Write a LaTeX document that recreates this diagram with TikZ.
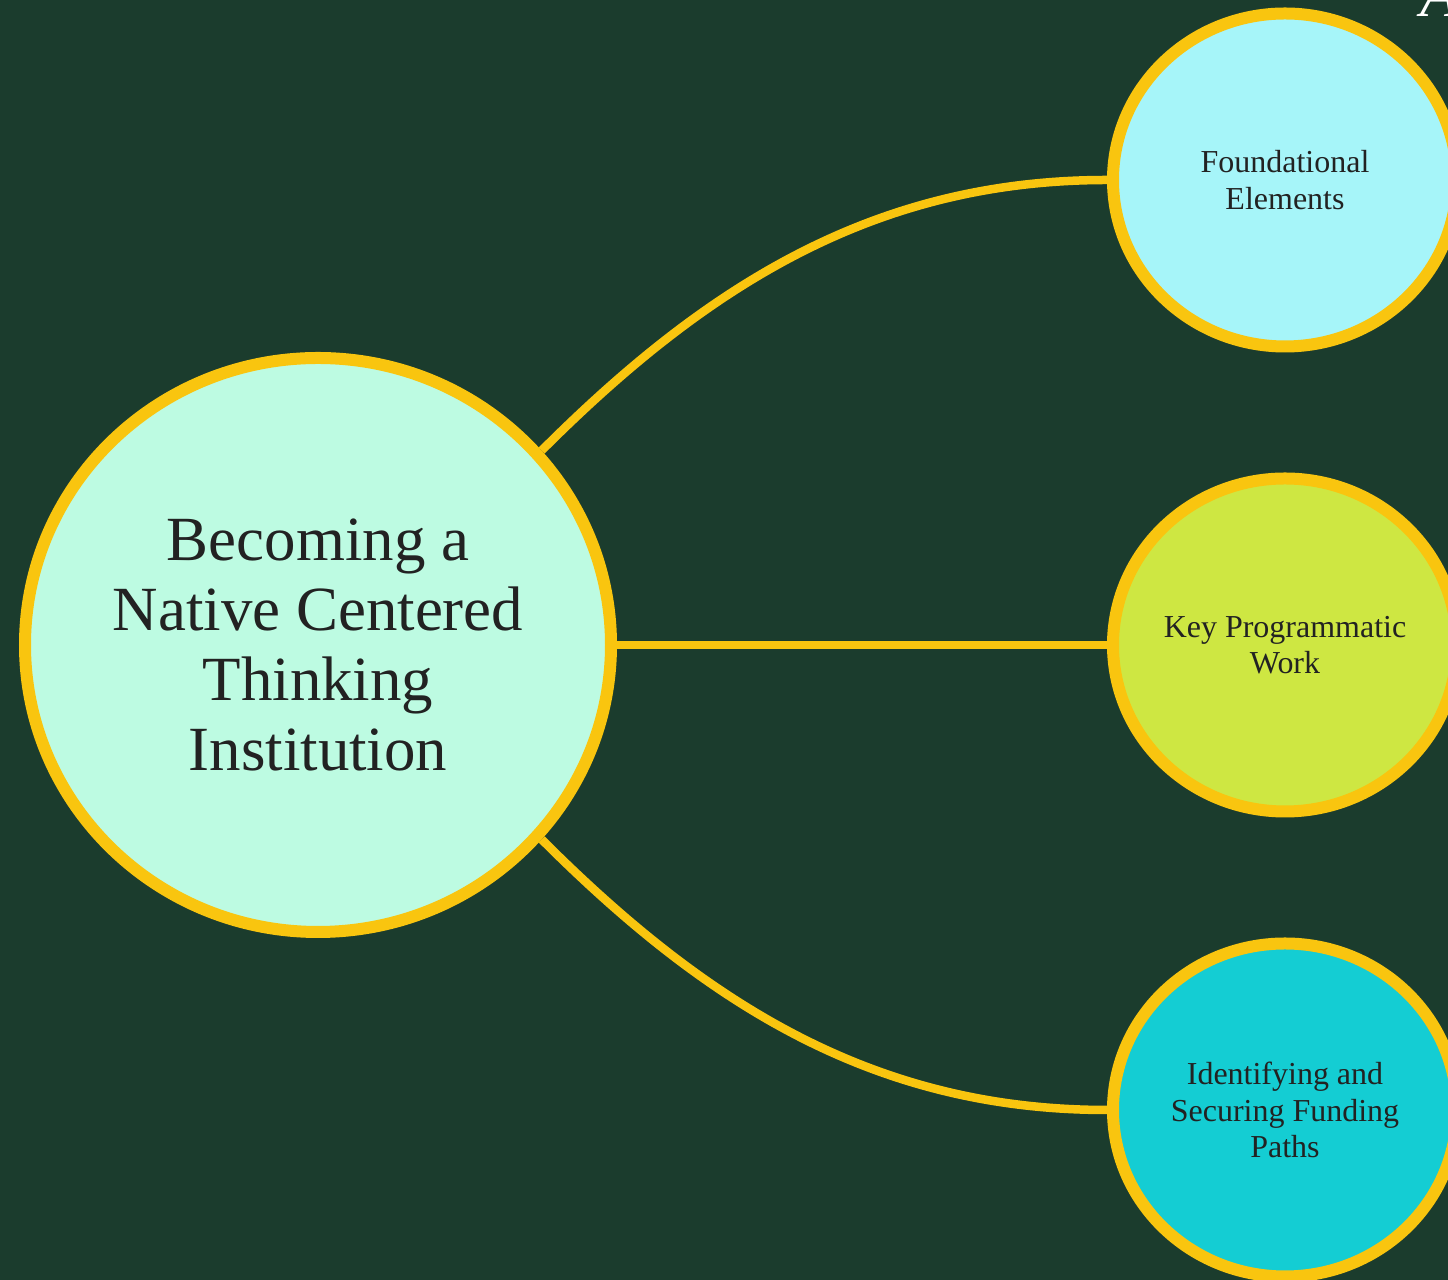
\documentclass[tikz,border=0pt]{standalone}
\usepackage{fontspec}
\setmainfont{Liberation Serif}
\usetikzlibrary{shapes.geometric}

\definecolor{bg}{HTML}{1B3C2D}
\definecolor{gold}{HTML}{F9C50F}
\definecolor{mint}{HTML}{BDFBE2}
\definecolor{sky}{HTML}{A6F5F9}
\definecolor{lime}{HTML}{CEE742}
\definecolor{aqua}{HTML}{14CDD3}
\definecolor{ink}{HTML}{222222}

\tikzset{
	bubble/.style={shape=ellipse,draw=gold,line width=1.2mm,inner sep=0pt,align=center,text=ink},
	small/.style={bubble,minimum width=3.44cm,minimum height=3.33cm,font=\fontsize{9.1}{10.3}\selectfont},
	link/.style={draw=gold,line width=0.85mm}
}

\begin{document}
\begin{tikzpicture}
	\useasboundingbox (0,0) rectangle (14.48,-12.8);
	\clip (0,0) rectangle (14.48,-12.8);
	\fill[bg] (0,0) rectangle (14.48,-12.8);
	\node[bubble,fill=mint,minimum width=5.86cm,minimum height=5.74cm,font=\fontsize{17.9}{19.9}\selectfont](a) at (3.18,-6.45) {Becoming a\\Native Centered\\Thinking\\Institution};
	\node[small,fill=sky](b) at (12.85,-1.80) {Foundational\\Elements};
	\node[small,fill=lime](c) at (12.85,-6.45) {Key Programmatic\\Work};
	\node[small,fill=aqua](d) at (12.85,-11.10) {Identifying and\\Securing Funding\\Paths};
	\node[text=white,font=\itshape\fontsize{18}{20}\selectfont,anchor=base west,inner sep=0pt](e) at (14.20,-0.17) {A};
	\draw[link] (a.41) to[out=45,in=180,looseness=0.95] (b.west);
	\draw[link] (a.east) -- (c.west);
	\draw[link] (a.-41) to[out=-45,in=180,looseness=0.95] (d.west);
\end{tikzpicture}
\end{document}
